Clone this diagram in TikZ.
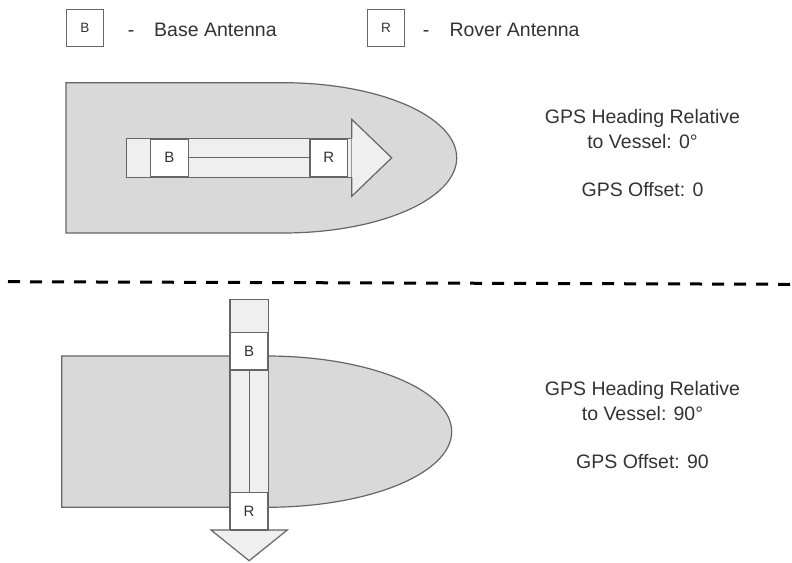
\documentclass[tikz,border=0pt]{standalone}
\usepackage{fontspec}
\setmainfont{Liberation Sans}
\usetikzlibrary{positioning}
\definecolor{hullgray}{HTML}{D9D9D9}
\definecolor{barfill}{HTML}{EFEFEF}
\definecolor{edgegray}{HTML}{666666}
\definecolor{inkgray}{HTML}{333333}

\begin{document}
\begin{tikzpicture}[x=1pt, y=-1pt,
  hull/.style={draw=edgegray, fill=hullgray, line width=1.2pt},
  bar/.style={draw=edgegray, fill=barfill, line width=1.2pt},
  ant/.style={draw=edgegray, fill=white, line width=1.2pt, inner sep=0pt,
              minimum width=37.8pt, minimum height=37.8pt, text=inkgray,
              font=\fontsize{15}{17}\selectfont},
  key/.style={draw=edgegray, line width=1pt, inner sep=0pt, minimum size=37.8pt,
              text=inkgray, font=\fontsize{13.5}{15}\selectfont},
  lbl/.style={font=\fontsize{19.5}{25}\selectfont, text=inkgray, inner sep=0pt, align=center},
]
\useasboundingbox (0,0) rectangle (792,562);
% Legend
\node[key] (kb) at (85,28) {B};
\node[lbl, anchor=base] (kbd) at (131,36.3) {-};
\node[lbl, anchor=base west] (kbtxt) at (154,36.3) {Base Antenna};
\node[key] (kr) at (386,28) {R};
\node[lbl, anchor=base] (krd) at (426,36.3) {-};
\node[lbl, anchor=base west] (krtxt) at (449.3,36.3) {Rover Antenna};
% Heading 0
\draw[hull] (66,82.7) -- (283,82.7) arc[start angle=-90, end angle=90, x radius=173.7, y radius=75.15]
            -- (66,233) -- cycle;
\draw[bar] (126.7,138.3) rectangle (351.7,177.3);
\filldraw[bar] (351.7,138.3) -- (351.7,119.3) -- (391.7,157.8) -- (351.7,196.3) -- (351.7,177.3);
\node[ant] (b1) at (169.5,157.8) {B};
\node[ant] (r1) at (328.9,157.8) {R};
\draw[edgegray, line width=1.2pt] (b1.east) -- (r1.west);
\node[lbl, anchor=north] (hd1) at (642.5,109.1) {GPS Heading Relative\\to Vessel: 0°};
\node[lbl, anchor=base] (off1) at (642.5,196) {GPS Offset: 0};
% Divider
\draw[line width=3pt, dash pattern=on 12pt off 10pt] (8,281.7) -- (792,284.3);
% Heading 90
\draw[hull] (61.7,356) -- (266.7,356) arc[start angle=-90, end angle=90, x radius=185, y radius=75.65]
            -- (61.7,507.3) -- cycle;
\draw[bar] (230,299.3) rectangle (268.3,530);
\filldraw[bar] (230,530) -- (211,530) -- (249.15,560.7) -- (287.3,530) -- (268.3,530);
\node[ant] (b2) at (249.15,351.15) {B};
\node[ant] (r2) at (249.15,511.15) {R};
\draw[edgegray, line width=1.2pt] (b2.south) -- (r2.north);
\node[lbl, anchor=north] (hd2) at (642.5,381.5) {GPS Heading Relative\\to Vessel: 90°};
\node[lbl, anchor=base] (off2) at (642.5,468.3) {GPS Offset: 90};
\end{tikzpicture}
\end{document}
